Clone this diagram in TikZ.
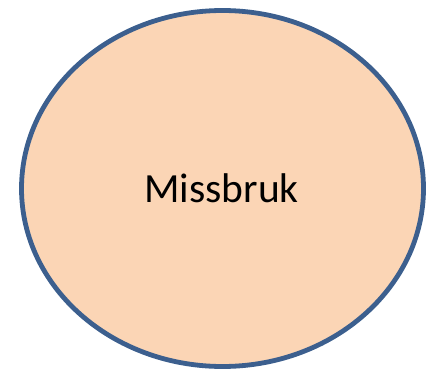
\documentclass[tikz,border=0pt]{standalone}
\usepackage{fontspec}
\setmainfont{Carlito}
\begin{document}
\begin{tikzpicture}[x=1pt,y=1pt,
  blob/.style={draw=ellborder,fill=ellfill,line width=4.8pt},
  lbl/.style={font=\fontsize{41.5}{50}\selectfont,text=black,inner sep=0pt}]
\definecolor{ellborder}{HTML}{3C5F8E}
\definecolor{ellfill}{HTML}{FBD5B5}
\useasboundingbox (0,0) rectangle (435,370);
\draw[blob] (222.5,181.5) ellipse [x radius=201, y radius=178];
\node[lbl,anchor=base] (t) at (221.5,167.3) {Missbruk};
\end{tikzpicture}
\end{document}
